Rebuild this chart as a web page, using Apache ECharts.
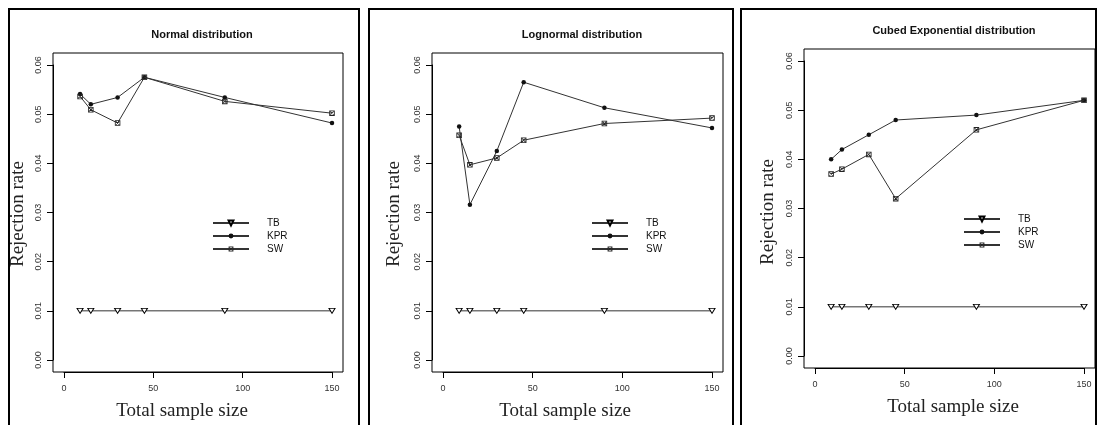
<!DOCTYPE html>
<html>
<head>
<meta charset="utf-8">
<title>Rejection rate</title>
<script src="https://cdn.jsdelivr.net/npm/echarts@6/dist/echarts.min.js"></script>
<style>
  html, body { margin: 0; padding: 0; background: #fff; }
  #main { width: 1098px; height: 425px; }
</style>
</head>
<body>
<div id="main"></div>
<script type="text/javascript">
// sample sizes on the x axis
var sizes = [9, 15, 30, 45, 90, 150];
var methods = ['TB', 'KPR', 'SW'];
var panelTitles = ['Normal distribution', 'Lognormal distribution', 'Cubed Exponential distribution'];

// rejection rates
var normalTB  = [0.010, 0.010, 0.010, 0.010, 0.010, 0.010];
var normalKPR = [0.0541, 0.0520, 0.0534, 0.0575, 0.0534, 0.0482];
var normalSW  = [0.0536, 0.0509, 0.0482, 0.0575, 0.0526, 0.0502];

var lognormTB  = [0.010, 0.010, 0.010, 0.010, 0.010, 0.010];
var lognormKPR = [0.0475, 0.0316, 0.0425, 0.0565, 0.0513, 0.0472];
var lognormSW  = [0.0457, 0.0397, 0.0411, 0.0447, 0.0481, 0.0492];

var cubedTB  = [0.010, 0.010, 0.010, 0.010, 0.010, 0.010];
var cubedKPR = [0.040, 0.042, 0.045, 0.048, 0.049, 0.052];
var cubedSW  = [0.037, 0.038, 0.041, 0.032, 0.046, 0.052];

var panelData = [
    [normalTB, normalKPR, normalSW],
    [lognormTB, lognormKPR, lognormSW],
    [cubedTB, cubedKPR, cubedSW]
];

var myChart = echarts.init(document.getElementById('main'));

// grid = data range 0..150 x 0..0.06; the R plot box is 4% wider on each side
var grids = [
    { left: 64, top: 65, width: 268, height: 295 },
    { left: 443, top: 65, width: 269, height: 295 },
    { left: 815, top: 61, width: 269, height: 295 }
];
var pad = 0.04;
var titlePos = [[197, 24], [577, 24], [949, 20]];
var legendPos = [[212, 218], [591, 218], [963, 214]];
var xNamePos = [[182, 411], [565, 411], [953, 407]];
var yNamePos = [[18, 214], [394, 214], [768, 212]];
var frames = [[9, 9, 350], [369, 9, 364], [741, 9, 355]];

// R style markers: open down-triangle, filled dot, square with a cross
var triPath = 'path://M0,0L10,0L5,9Z';
var sqxPath = 'path://M0,0L10,0L10,10L0,10Z M1.5,1.5L1.5,8.5L8.5,8.5L8.5,1.5Z ' +
    'M1.5,2.5L2.5,1.5L8.5,7.5L7.5,8.5Z M7.5,1.5L8.5,2.5L2.5,8.5L1.5,7.5Z';
var symbols = [triPath, 'circle', sqxPath];
var symbolSizes = [[6, 5], 4.5, 5.5];
var fills = ['#fff', '#111', '#222'];
var borders = [1, 0, 0];

var option = {
    animation: false,
    backgroundColor: '#fff',
    title: [],
    legend: [],
    grid: [],
    xAxis: [],
    yAxis: [],
    series: [],
    graphic: []
};

for (var p = 0; p < 3; p++) {
    var g = grids[p];
    var padX = Math.round(g.width * pad);
    var padY = Math.round(g.height * pad);

    option.title.push({
        text: panelTitles[p],
        left: titlePos[p][0],
        top: titlePos[p][1],
        textAlign: 'center',
        textStyle: { fontFamily: 'Liberation Sans', fontSize: 11, fontWeight: 'bold', color: '#111' }
    });
    option.grid.push({ left: g.left, top: g.top, width: g.width, height: g.height });
    option.xAxis.push({
        type: 'value', gridIndex: p, min: 0, max: 150, interval: 50,
        offset: padY,
        axisLine: { show: true, onZero: false, lineStyle: { color: '#000', width: 1 } },
        splitLine: { show: false },
        axisTick: { show: true, length: 6, lineStyle: { color: '#000', width: 1 } },
        axisLabel: { margin: 12, fontFamily: 'Liberation Sans', fontSize: 9, color: '#333' }
    });
    option.yAxis.push({
        type: 'value', gridIndex: p, min: 0, max: 0.06, interval: 0.01,
        offset: padX,
        axisLine: { show: true, onZero: false, lineStyle: { color: '#000', width: 1 } },
        splitLine: { show: false },
        axisTick: { show: true, length: 6, lineStyle: { color: '#000', width: 1 } },
        axisLabel: {
            rotate: 90, margin: 10,
            fontFamily: 'Liberation Sans', fontSize: 9, color: '#333',
            formatter: function (v) { return v.toFixed(2); }
        }
    });
    option.legend.push({
        data: methods,
        orient: 'vertical',
        left: legendPos[p][0], top: legendPos[p][1],
        itemWidth: 36, itemHeight: 6, itemGap: 3,
        padding: 0,
        selectedMode: false,
        textStyle: { fontFamily: 'Liberation Sans', fontSize: 10, color: '#111', padding: [0, 0, 0, 13], lineHeight: 9 }
    });
    for (var m = 0; m < 3; m++) {
        var pts = [];
        for (var i = 0; i < sizes.length; i++) {
            pts.push([sizes[i], panelData[p][m][i]]);
        }
        option.series.push({
            name: methods[m],
            type: 'line',
            xAxisIndex: p, yAxisIndex: p,
            data: pts,
            clip: false,
            symbol: symbols[m],
            symbolSize: symbolSizes[m],
            showAllSymbol: true,
            lineStyle: { color: '#333', width: 1 },
            itemStyle: { color: fills[m], borderColor: '#000', borderWidth: borders[m] },
            emphasis: { disabled: true },
            z: 3 + m
        });
    }
    // axis titles
    option.graphic.push({
        type: 'text', x: xNamePos[p][0], y: xNamePos[p][1], silent: true,
        style: { text: 'Total sample size', fontFamily: 'Liberation Serif', fontSize: 19, fill: '#222', align: 'center', verticalAlign: 'middle' }
    });
    option.graphic.push({
        type: 'text', x: yNamePos[p][0], y: yNamePos[p][1], rotation: Math.PI / 2, silent: true,
        style: { text: 'Rejection rate', fontFamily: 'Liberation Serif', fontSize: 19, fill: '#222', align: 'center', verticalAlign: 'middle' }
    });
    // plot box around the padded data range
    option.graphic.push({
        type: 'rect',
        shape: { x: g.left - padX, y: g.top - padY, width: g.width + 2 * padX, height: g.height + 2 * padY },
        style: { fill: 'none', stroke: '#000', lineWidth: 1 },
        silent: true
    });
    // panel frame
    option.graphic.push({
        type: 'rect',
        shape: { x: frames[p][0], y: frames[p][1], width: frames[p][2], height: 430 },
        style: { fill: 'none', stroke: '#000', lineWidth: 2 },
        silent: true
    });
}

myChart.setOption(option);
</script>
</body>
</html>
